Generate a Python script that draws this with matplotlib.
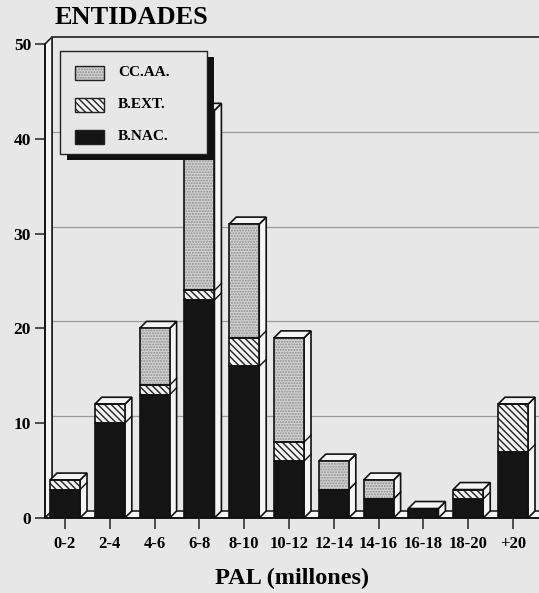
import matplotlib
matplotlib.use("Agg")
import matplotlib.pyplot as plt
from matplotlib.patches import Polygon, Rectangle
import numpy as np

# Data: number of entities by PAL range (millions)
categories = ["0-2", "2-4", "4-6", "6-8", "8-10", "10-12", "12-14",
              "14-16", "16-18", "18-20", "+20"]
b_nac = [3, 10, 13, 23, 16, 6, 3, 2, 1, 2, 7]
b_ext = [1, 2, 1, 1, 3, 2, 0, 0, 0, 1, 5]
cc_aa = [0, 0, 6, 19, 12, 11, 3, 2, 0, 0, 0]
y_ticks = [0, 10, 20, 30, 40, 50]

BG = "#e7e7e7"
SIDE = "#f5f5f5"
FONT = ["Liberation Serif", "DejaVu Serif"]
plt.rcParams["font.family"] = FONT
plt.rcParams["hatch.linewidth"] = 1.0

styles = {
    "B.NAC.": dict(facecolor="#141414", hatch=None, hatchcolor="#141414"),
    "B.EXT.": dict(facecolor="#f2f2f2", hatch="\\\\\\\\\\", hatchcolor="#222222"),
    "CC.AA.": dict(facecolor="#d4d4d4", hatch="......", hatchcolor="#8c8c8c"),
}

W, H = 539, 593
fig = plt.figure(figsize=(W / 100, H / 100), dpi=100, facecolor=BG)

# axes box in pixels: x from 45 to 539, y (from top) 44 .. 518
x0, x1, ytop, ybot = 45, 539, 44, 518
ax = fig.add_axes([x0 / W, (H - ybot) / H, (x1 - x0) / W, (ybot - ytop) / H])
ax.set_facecolor("none")
tick_px = 44.8
xmin = (x0 - 65) / tick_px
xmax = xmin + (x1 - x0) / tick_px
ax.set_xlim(xmin, xmax)
ax.set_ylim(0, 50)

px_y = 50 / (ybot - ytop)
DX = 7 / tick_px
DY = 7 * px_y
LW = 1.2

for s in ax.spines.values():
    s.set_visible(False)

# back wall gridlines
for v in y_ticks[1:-1]:
    ax.plot([xmin + DX, xmax + 1], [v + DY, v + DY], color="#9a9a9a", lw=0.9,
            zorder=1, clip_on=False)
# back wall frame and left wall
ax.plot([xmin + DX, xmin + DX, xmax + 1], [DY, 50 + DY, 50 + DY], color="#222",
        lw=LW, zorder=1, clip_on=False)
ax.add_patch(Polygon([(xmin, 0), (xmin + DX, DY), (xmin + DX, 50 + DY), (xmin, 50)],
                     closed=True, facecolor=SIDE, edgecolor="#222", lw=LW,
                     zorder=1.5, clip_on=False))
# floor
ax.add_patch(Polygon([(xmin, 0), (xmin + DX, DY), (xmax + 1, DY), (xmax + 1, 0)],
                     closed=True, facecolor=SIDE, edgecolor="#222", lw=LW,
                     zorder=1.5, clip_on=False))

x = np.arange(len(categories))
bw = 0.67
bottom = np.zeros(len(categories))
order = [("B.NAC.", b_nac), ("B.EXT.", b_ext), ("CC.AA.", cc_aa)]
for name, vals in order:
    vals = np.array(vals, dtype=float)
    st = styles[name]
    # fill + pattern, then the outline on top
    ax.bar(x, vals, bw, bottom=bottom, facecolor=st["facecolor"], hatch=st["hatch"],
           edgecolor=st["hatchcolor"], lw=0, zorder=3)
    ax.bar(x, vals, bw, bottom=bottom, fill=False, edgecolor="#111", lw=LW, zorder=3.1)
    bottom = bottom + vals

tops = bottom
for xi, t in zip(x, tops):
    r = xi + bw / 2
    l = xi - bw / 2
    # side face
    ax.add_patch(Polygon([(r, 0), (r + DX, DY), (r + DX, t + DY), (r, t)], closed=True,
                         facecolor=SIDE, edgecolor="#111", lw=LW, zorder=2.5,
                         clip_on=False))
    # top face
    ax.add_patch(Polygon([(l, t), (l + DX, t + DY), (r + DX, t + DY), (r, t)], closed=True,
                         facecolor=SIDE, edgecolor="#111", lw=LW, zorder=2.5,
                         clip_on=False))
# segment boundary lines on side faces
cum = np.zeros(len(categories))
for name, vals in order[:-1]:
    cum = cum + np.array(vals, dtype=float)
    for xi, c, t in zip(x, cum, tops):
        if 0 < c < t:
            r = xi + bw / 2
            ax.plot([r, r + DX], [c, c + DY], color="#111", lw=1.0, zorder=2.6)

# axes lines and ticks
ax.plot([xmin, xmin], [0, 50], color="#111", lw=LW, zorder=2, clip_on=False)
ax.plot([xmin, xmax + 1], [0, 0], color="#111", lw=LW, zorder=2, clip_on=False)
ax.set_yticks(y_ticks)
ax.set_yticklabels([str(v) for v in y_ticks], fontsize=12.5, fontweight="bold")
ax.set_xticks(x)
ax.set_xticklabels(categories, fontsize=12, fontweight="bold")
ax.tick_params(axis="y", length=7, width=1.1, pad=3, color="#222")
ax.tick_params(axis="x", length=8, width=1.1, pad=5, color="#222")

fig.text(292 / W, 1 - 578 / H, "PAL (millones)", fontsize=17.5, fontweight="bold",
         va="center", ha="center")
fig.text(55 / W, 1 - 17 / H, "ENTIDADES", fontsize=19, fontweight="bold",
         va="center", ha="left")

# legend box with drop shadow
lx0, ly0, lx1, ly1 = 60, 51, 207, 154
shadow = Rectangle(((lx0 + 7) / W, 1 - (ly1 + 6) / H), (lx1 - lx0) / W, (ly1 - ly0) / H,
                   transform=fig.transFigure, facecolor="#111", edgecolor="none",
                   zorder=10)
box = Rectangle((lx0 / W, 1 - ly1 / H), (lx1 - lx0) / W, (ly1 - ly0) / H,
                transform=fig.transFigure, facecolor=BG, edgecolor="#222", lw=1.0,
                zorder=11)
fig.add_artist(shadow)
fig.add_artist(box)
for i, name in enumerate(["CC.AA.", "B.EXT.", "B.NAC."]):
    cy = 73 + i * 32
    st = styles[name]
    rect = ((75 / W, 1 - (cy + 7) / H), 29 / W, 14 / H)
    fig.add_artist(Rectangle(*rect, transform=fig.transFigure, facecolor=st["facecolor"],
                             hatch=st["hatch"], edgecolor=st["hatchcolor"], lw=0,
                             zorder=12))
    fig.add_artist(Rectangle(*rect, transform=fig.transFigure, fill=False,
                             edgecolor="#222", lw=1.0, zorder=12.1))
    fig.text(118 / W, 1 - cy / H, name, fontsize=11, fontweight="bold",
             va="center", ha="left", zorder=12)

fig.savefig("out.png", dpi=100, facecolor=BG)
